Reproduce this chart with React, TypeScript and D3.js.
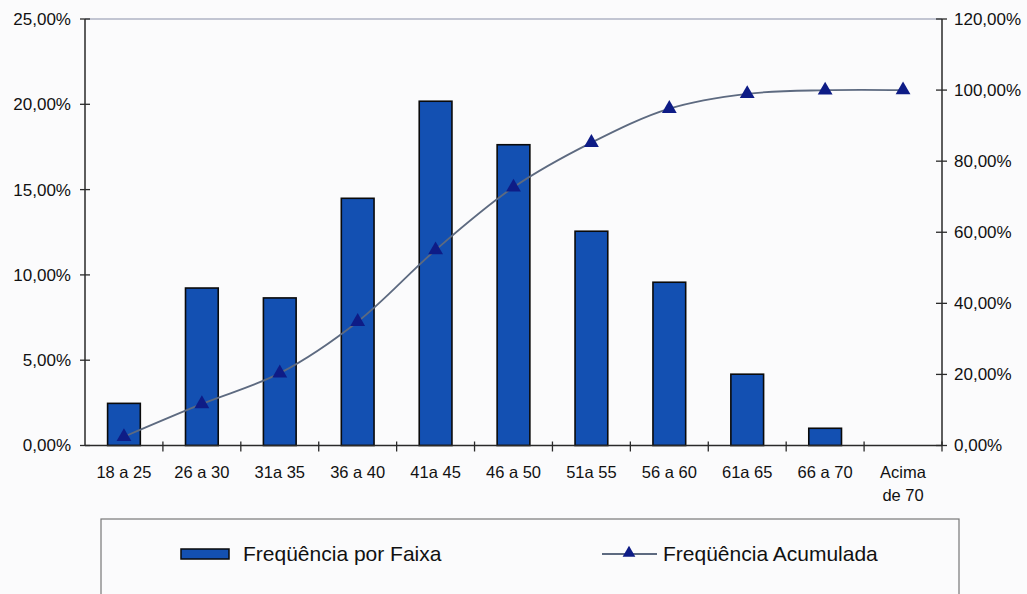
import React from "react";
import * as d3 from "d3";

const categories: string[][] = [
  ["18 a 25"], ["26 a 30"], ["31a 35"], ["36 a 40"], ["41a 45"], ["46 a 50"],
  ["51a 55"], ["56 a 60"], ["61a 65"], ["66 a 70"], ["Acima", "de 70"],
];
const freqPorFaixa: number[] = [2.47, 9.23, 8.65, 14.49, 20.18, 17.63, 12.56, 9.57, 4.18, 1.01, 0];
const freqAcumulada: number[] = [2.47, 11.7, 20.35, 34.84, 55.02, 72.65, 85.21, 94.78, 98.96, 99.97, 100];
const leftTicks: number[] = [0, 5, 10, 15, 20, 25];
const rightTicks: number[] = [0, 20, 40, 60, 80, 100, 120];
const legendLabels: string[] = ["Freqüência por Faixa", "Freqüência Acumulada"];

const locale = d3.formatLocale({ decimal: ",", thousands: ".", grouping: [3], currency: ["R$", ""] });
const fmt = (v: number) => locale.format(".2f")(v) + "%";

export default function App() {
  const W = 1027, H = 594;
  const left = 85, right = 942, top = 19, bottom = 445.5;
  const keys = categories.map((c) => c.join(" "));
  const x = d3.scaleBand<string>().domain(keys).range([left, right]).paddingInner(0.58).paddingOuter(0.29);
  const xc = d3.scaleBand<string>().domain(keys).range([left, right]).padding(0);
  const yL = d3.scaleLinear().domain([0, 25]).range([bottom, top]);
  const yR = d3.scaleLinear().domain([0, 120]).range([bottom, top]);
  const line = d3
    .line<number>()
    .x((_, i) => (xc(keys[i]) as number) + xc.bandwidth() / 2)
    .y((d) => yR(d))
    .curve(d3.curveCatmullRom.alpha(0.5));
  const tri = d3.symbol().type(d3.symbolTriangle).size(95)() as string;
  const triSmall = d3.symbol().type(d3.symbolTriangle).size(70)() as string;
  const font = "'Liberation Sans', Arial, sans-serif";
  const axisColor = "#2a2a2a";
  const lineColor = "#5d6a80";
  const markColor = "#0e1c86";
  const barColor = "#1350b2";

  return (
    <svg width={W} height={H} style={{ position: "absolute", left: 0, top: 0 }} fontFamily={font}>
      <rect x={0} y={0} width={W} height={H} fill="#fbfbfc" />
      {/* plot top border */}
      <line x1={left} x2={right} y1={top} y2={top} stroke="#8a90a8" strokeWidth={1.2} />
      {/* bars */}
      {freqPorFaixa.map((v, i) =>
        v > 0 ? (
          <rect
            key={i}
            x={x(keys[i]) as number}
            y={yL(v)}
            width={x.bandwidth()}
            height={bottom - yL(v)}
            fill={barColor}
            stroke="#0a0a0a"
            strokeWidth={1.6}
          />
        ) : null
      )}
      {/* cumulative line */}
      <path d={line(freqAcumulada) as string} fill="none" stroke={lineColor} strokeWidth={1.8} />
      {freqAcumulada.map((v, i) => (
        <path
          key={i}
          d={tri}
          transform={`translate(${(xc(keys[i]) as number) + xc.bandwidth() / 2},${yR(v)})`}
          fill={markColor}
        />
      ))}
      {/* left axis */}
      <line x1={left} x2={left} y1={top} y2={bottom} stroke={axisColor} strokeWidth={1.5} />
      {leftTicks.map((t) => (
        <g key={t}>
          <line x1={left - 5} x2={left + 5} y1={yL(t)} y2={yL(t)} stroke={axisColor} strokeWidth={1.3} />
          <text x={71} y={yL(t)} dy="0.35em" textAnchor="end" fontSize={17} fill="#111">
            {fmt(t)}
          </text>
        </g>
      ))}
      {/* right axis */}
      <line x1={right} x2={right} y1={top} y2={bottom} stroke={axisColor} strokeWidth={1.5} />
      {rightTicks.map((t) => (
        <g key={t}>
          <line x1={right - 6} x2={right + 5} y1={yR(t)} y2={yR(t)} stroke={axisColor} strokeWidth={1.3} />
          <text x={954} y={yR(t)} dy="0.35em" textAnchor="start" fontSize={17} fill="#111">
            {fmt(t)}
          </text>
        </g>
      ))}
      {/* bottom axis */}
      <line x1={left} x2={right} y1={bottom} y2={bottom} stroke={axisColor} strokeWidth={1.5} />
      {keys.map((k) => (
        <line
          key={k}
          x1={(xc(k) as number) + xc.bandwidth()}
          x2={(xc(k) as number) + xc.bandwidth()}
          y1={bottom - 4}
          y2={bottom + 6}
          stroke={axisColor}
          strokeWidth={1.3}
        />
      ))}
      {categories.map((c, i) =>
        c.map((s, j) => (
          <text
            key={`${i}-${j}`}
            x={(xc(keys[i]) as number) + xc.bandwidth() / 2}
            y={478 + j * 23}
            textAnchor="middle"
            fontSize={16.5}
            fill="#111"
          >
            {s}
          </text>
        ))
      )}
      {/* legend */}
      <rect x={101} y={519} width={858} height={90} fill="none" stroke="#777" strokeWidth={1.2} />
      <rect x={181} y={549} width={48} height={10} fill={barColor} stroke="#0a0a0a" strokeWidth={1.5} />
      <text x={243} y={561} fontSize={21} fill="#111">
        {legendLabels[0]}
      </text>
      <line x1={602} x2={657} y1={554} y2={554} stroke={lineColor} strokeWidth={1.8} />
      <path d={triSmall} transform="translate(629,553)" fill={markColor} />
      <text x={663} y={561} fontSize={21} fill="#111">
        {legendLabels[1]}
      </text>
    </svg>
  );
}
